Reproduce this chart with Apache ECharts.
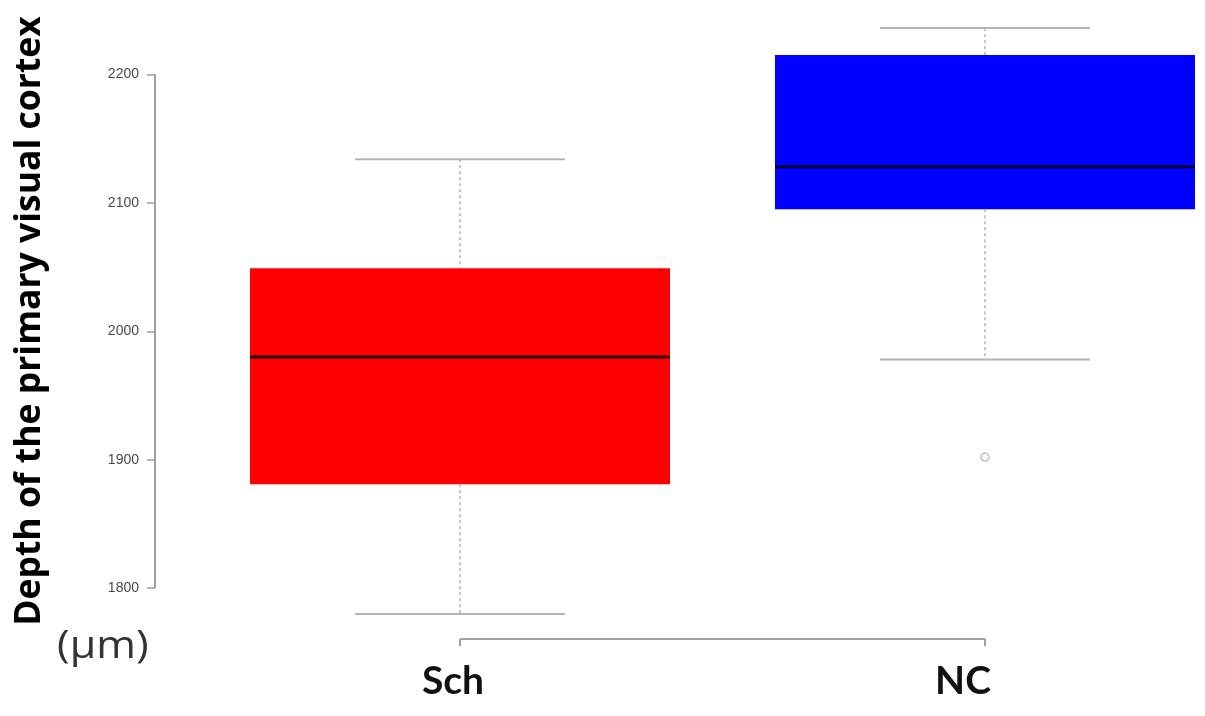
<!DOCTYPE html>
<html>
<head>
  <meta charset="UTF-8">
  <title>Depth of the primary visual cortex</title>
  <style>
    html, body { margin: 0; padding: 0; background: #fff; }
    #chart { width: 1205px; height: 716px; }
  </style>
  <script src="https://cdn.jsdelivr.net/npm/echarts@6/dist/echarts.min.js"></script>
</head>
<body>
  <div id="chart"></div>
  <script>
    // groups and box statistics: [min, Q1, median, Q3, max]
    var groups = ['Sch', 'NC'];
    var boxStats = [
      [1780, 1881, 1980, 2049, 2134],
      [1978, 2095, 2128, 2215, 2236]
    ];
    var outliers = [[1, 1902]];
    var yTicks = [1800, 1900, 2000, 2100, 2200];
    var boxColors = ['#ff0000', '#0000ff'];

    var gridLeft = 197.5, yOffset = 42.5;
    var chart = echarts.init(document.getElementById('chart'));

    function renderBox(params, api) {
      var x = api.value(0);
      var lo = api.coord([x, api.value(1)]);
      var q1 = api.coord([x, api.value(2)]);
      var med = api.coord([x, api.value(3)]);
      var q3 = api.coord([x, api.value(4)]);
      var hi = api.coord([x, api.value(5)]);
      var band = api.size([1, 0])[0];
      var cx = lo[0];
      var bw = band * 0.8, cw = band * 0.4;
      var grey = '#b4b4b4';
      return {
        type: 'group',
        children: [
          { type: 'line', shape: { x1: cx, y1: hi[1], x2: cx, y2: q3[1] },
            style: { stroke: grey, lineWidth: 1.5, lineDash: [3, 3] } },
          { type: 'line', shape: { x1: cx, y1: q1[1], x2: cx, y2: lo[1] },
            style: { stroke: grey, lineWidth: 1.5, lineDash: [3, 3] } },
          { type: 'line', shape: { x1: cx - cw / 2, y1: hi[1], x2: cx + cw / 2, y2: hi[1] },
            style: { stroke: grey, lineWidth: 2 } },
          { type: 'line', shape: { x1: cx - cw / 2, y1: lo[1], x2: cx + cw / 2, y2: lo[1] },
            style: { stroke: grey, lineWidth: 2 } },
          { type: 'rect', shape: { x: cx - bw / 2, y: q3[1], width: bw, height: q1[1] - q3[1] },
            style: { fill: boxColors[params.dataIndex] } },
          { type: 'line', shape: { x1: cx - bw / 2, y1: med[1], x2: cx + bw / 2, y2: med[1] },
            style: { stroke: 'rgba(0,0,0,0.82)', lineWidth: 3 } }
        ]
      };
    }

    var option = {
      animation: false,
      grid: { left: gridLeft, width: 1050, top: 5, height: 632, outerBoundsMode: 'none', containLabel: false },
      xAxis: {
        type: 'category',
        data: [
          { value: groups[0], textStyle: { padding: [0, 14, 0, 0] } },
          { value: groups[1], textStyle: { padding: [0, 44, 0, 0] } }
        ],
        offset: 2,
        axisLine: { show: false },
        axisTick: { show: true, alignWithLabel: true, length: 7, lineStyle: { color: '#a0a0a0', width: 2 } },
        axisLabel: { margin: 23, fontSize: 39, fontWeight: 'bold', color: '#111', fontFamily: 'Lato' },
        splitLine: { show: false }
      },
      yAxis: {
        type: 'value',
        min: 1762,
        max: 2254,
        offset: yOffset,
        name: 'Depth of the primary visual cortex',
        nameLocation: 'middle',
        nameRotate: 90,
        nameGap: 107,
        nameTextStyle: { fontSize: 35.5, fontWeight: 'bold', color: '#000', fontFamily: 'Open Sans' },
        axisLine: { show: false },
        axisTick: { show: true, length: 8, customValues: yTicks, lineStyle: { color: '#a0a0a0', width: 1.5 } },
        axisLabel: {
          customValues: yTicks, margin: 16, fontSize: 14, color: '#4a4a4a', fontFamily: 'Liberation Sans',
          formatter: function (v) { return String(v); }
        },
        splitLine: { show: false }
      },
      series: [
        {
          type: 'custom',
          renderItem: renderBox,
          data: groups.map(function (g, i) { return [i].concat(boxStats[i]); }),
          z: 2
        },
        {
          type: 'scatter',
          data: outliers,
          symbol: 'circle',
          symbolSize: 8,
          itemStyle: { color: 'rgba(0,0,0,0)', borderColor: '#a0a0a0', borderWidth: 1.2 },
          z: 3
        }
      ]
    };
    chart.setOption(option);

    // R-style axis lines: only span the first to last tick
    var yTop = chart.convertToPixel({ yAxisIndex: 0 }, yTicks[yTicks.length - 1]);
    var yBot = chart.convertToPixel({ yAxisIndex: 0 }, yTicks[0]);
    var xA = chart.convertToPixel({ xAxisIndex: 0 }, groups[0]);
    var xB = chart.convertToPixel({ xAxisIndex: 0 }, groups[1]);
    var axisY = chart.convertToPixel({ yAxisIndex: 0 }, 1762) + 2;
    var axisX = gridLeft - yOffset;
    chart.setOption({
      graphic: [
        { type: 'line', shape: { x1: axisX, y1: yTop, x2: axisX, y2: yBot },
          style: { stroke: '#a0a0a0', lineWidth: 2 } },
        { type: 'line', shape: { x1: xA, y1: axisY, x2: xB, y2: axisY },
          style: { stroke: '#a0a0a0', lineWidth: 2 } },
        { type: 'text', left: 57, top: 627, scaleX: 1.1,
          style: { text: '(μm)', fontSize: 39, fill: '#333', fontFamily: 'Open Sans' } }
      ]
    });
  </script>
</body>
</html>
